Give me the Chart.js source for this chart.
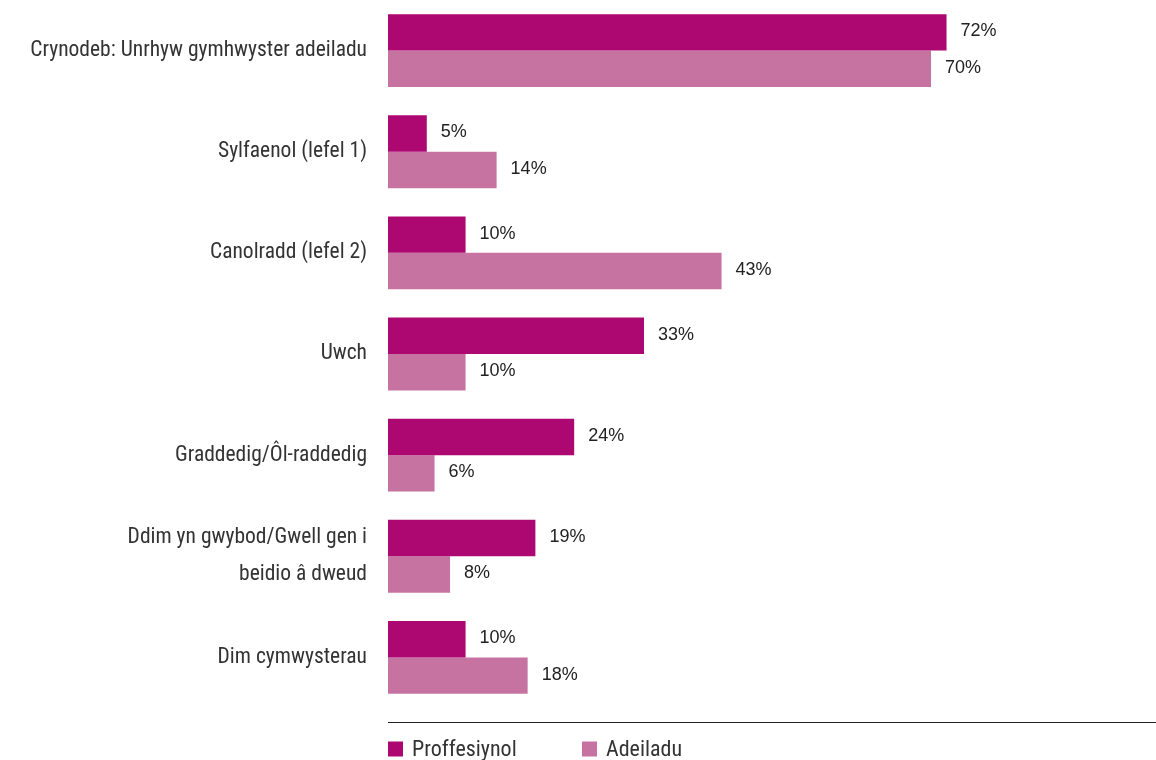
<!DOCTYPE html>
<html>
<head>
<meta charset="utf-8">
<script src="https://cdn.jsdelivr.net/npm/chart.js@4/dist/chart.umd.min.js"></script>
<style>
  html, body { margin: 0; padding: 0; background: #fff; }
  #wrap { width: 1156px; height: 760px; }
</style>
</head>
<body>
<div id="wrap"><canvas id="chart" width="1156" height="760"></canvas></div>
<script>
// data
const categories = [
  'Crynodeb: Unrhyw gymhwyster adeiladu',
  'Sylfaenol (lefel 1)',
  'Canolradd (lefel 2)',
  'Uwch',
  'Graddedig/Ôl-raddedig',
  ['Ddim yn gwybod/Gwell gen i', 'beidio â dweud'],
  'Dim cymwysterau'
];
const proffesiynol = [72, 5, 10, 33, 24, 19, 10];
const adeiladu = [70, 14, 43, 10, 6, 8, 18];
const seriesNames = ['Proffesiynol', 'Adeiladu'];

const NARROW = '"Liberation Sans Narrow", "Roboto Condensed", Roboto, sans-serif';
const TEXT = '#333333';

// value labels next to bar ends
const valueLabels = {
  id: 'valueLabels',
  afterDatasetsDraw(chart) {
    const ctx = chart.ctx;
    ctx.save();
    ctx.font = '18px "Liberation Sans", Arial, sans-serif';
    ctx.fillStyle = '#222';
    ctx.textAlign = 'left';
    ctx.textBaseline = 'middle';
    chart.data.datasets.forEach((ds, i) => {
      chart.getDatasetMeta(i).data.forEach((bar, j) => {
        ctx.fillText(ds.data[j] + '%', bar.x + 14, bar.y - 1);
      });
    });
    ctx.restore();
  }
};

// bottom rule + legend at left
const bottomStuff = {
  id: 'bottomStuff',
  afterDraw(chart) {
    const ctx = chart.ctx;
    const a = chart.chartArea;
    ctx.save();
    ctx.strokeStyle = '#222';
    ctx.lineWidth = 1.2;
    ctx.beginPath();
    ctx.moveTo(a.left, a.bottom + 14.5);
    ctx.lineTo(chart.width, a.bottom + 14.5);
    ctx.stroke();

    ctx.font = '22px ' + NARROW;
    ctx.textBaseline = 'middle';
    ctx.textAlign = 'left';
    const offs = [0, 194];
    chart.data.datasets.forEach((ds, i) => {
      const x = a.left + offs[i];
      const y = a.bottom + 41;
      ctx.fillStyle = ds.backgroundColor;
      ctx.fillRect(x, y - 7.5, 15, 15);
      ctx.fillStyle = TEXT;
      ctx.fillText(ds.label, x + 24, y + 1);
    });
    ctx.restore();
  }
};

new Chart(document.getElementById('chart'), {
  type: 'bar',
  data: {
    labels: categories,
    datasets: [
      { label: seriesNames[0], data: proffesiynol, backgroundColor: '#AD0872' },
      { label: seriesNames[1], data: adeiladu, backgroundColor: '#C673A2' }
    ]
  },
  options: {
    indexAxis: 'y',
    responsive: false,
    animation: false,
    events: [],
    layout: { padding: { top: 0, right: 0, bottom: 52, left: 0 } },
    datasets: { bar: { categoryPercentage: 0.72, barPercentage: 1.0 } },
    plugins: {
      legend: { display: false },
      tooltip: { enabled: false }
    },
    scales: {
      x: { display: false, min: 0, max: 99 },
      y: {
        grid: { display: false, drawTicks: false },
        border: { display: false },
        ticks: {
          padding: 21,
          color: TEXT,
          font: { family: NARROW, size: 21.5, lineHeight: 1.7 }
        },
        afterFit(scale) {
          scale.width = 388;
          scale.paddingTop = 0;
          scale.paddingBottom = 0;
        }
      }
    }
  },
  plugins: [valueLabels, bottomStuff]
});
</script>
</body>
</html>
